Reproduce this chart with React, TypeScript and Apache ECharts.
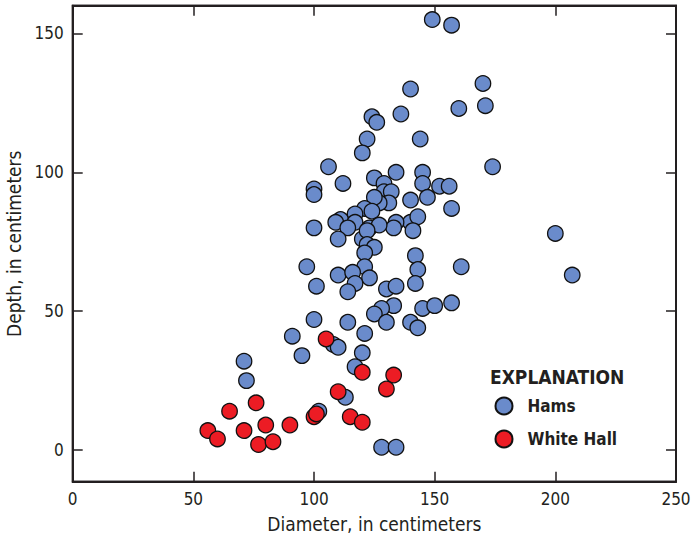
import React, { useEffect, useRef } from "react";
import * as echarts from "echarts";

const xTicks = [0, 50, 100, 150, 200, 250];
const yTicks = [0, 50, 100, 150];
const yMin = -11.4;
const yMax = 160;

const hamsDiameter = [
  149, 157, 170, 171, 160, 140, 136, 124, 126, 144, 122, 120, 174, 106, 112, 100, 100, 125, 134, 145,
  129, 145, 129, 132, 152, 156, 140, 147, 131, 157, 127, 125, 121, 124, 117, 111, 117, 109, 100, 140,
  143, 134, 141, 133, 123, 127, 114, 110, 120, 122, 122, 125, 121, 142, 161, 97, 143, 121, 110, 116,
  123, 117, 101, 114, 130, 134, 142, 133, 128, 125, 145, 150, 157, 100, 114, 130, 140, 143, 121, 91,
  95, 71, 72, 108, 110, 120, 117, 113, 102, 128, 134, 200, 207,
];
const hamsDepth = [
  155, 153, 132, 124, 123, 130, 121, 120, 118, 112, 112, 107, 102, 102, 96, 94, 92, 98, 100, 100,
  96, 96, 93, 93, 95, 95, 90, 91, 89, 87, 89, 91, 87, 86, 85, 83, 82, 82, 80, 82,
  84, 82, 79, 80, 80, 81, 80, 76, 76, 79, 74, 73, 71, 70, 66, 66, 65, 66, 63, 64,
  62, 60, 59, 57, 58, 59, 60, 52, 51, 49, 51, 52, 53, 47, 46, 46, 46, 44, 42, 41,
  34, 32, 25, 38, 37, 35, 30, 19, 14, 1, 1, 78, 63,
];

const whiteHallDiameter = [105, 120, 133, 130, 110, 76, 65, 100, 101, 115, 120, 90, 80, 71, 56, 60, 77, 83];
const whiteHallDepth = [40, 28, 27, 22, 21, 17, 14, 12, 13, 12, 10, 9, 9, 7, 7, 4, 2, 3];

const FONT = "'Liberation Sans Narrow', 'DejaVu Sans Condensed', 'Roboto', sans-serif";
const INK = "#231f20";

export default function App() {
  const ref = useRef<HTMLDivElement>(null);
  useEffect(() => {
    if (!ref.current) return;
    const chart = echarts.init(ref.current, null, { renderer: "svg" });
    const hams = hamsDiameter.map((d, i) => [d, hamsDepth[i]]);
    const wh = whiteHallDiameter.map((d, i) => [d, whiteHallDepth[i]]);
    const axisLine = () => ({ show: true, onZero: false, lineStyle: { color: INK, width: 1.8 } });
    const tick = () => ({ show: true, inside: true, length: 10, lineStyle: { color: INK, width: 1.5 } });
    const explanation = {
      id: "explanation",
      type: "text",
      left: 490,
      top: 367,
      style: { text: "EXPLANATION", font: `bold 19px ${FONT}`, fill: INK },
    };
    chart.setOption({
      animation: false,
      grid: {
        left: 72.7,
        right: 22,
        top: 5.7,
        bottom: 57.3,
        containLabel: false,
        outerBoundsMode: "none",
        show: true,
        borderColor: INK,
        borderWidth: 1.8,
      },
      graphic: [explanation],
      legend: {
        orient: "vertical",
        left: 489.5,
        top: 391.5,
        itemWidth: 17,
        itemHeight: 17,
        itemGap: 14,
        icon: "circle",
        textStyle: { fontFamily: FONT, fontWeight: "bold", fontSize: 17, color: INK, padding: [0, 0, 0, 10] },
        data: ["Hams", "White Hall"],
      },
      xAxis: [
        {
          type: "value",
          min: xTicks[0],
          max: xTicks[xTicks.length - 1],
          interval: 50,
          position: "bottom",
          name: "Diameter, in centimeters",
          nameLocation: "middle",
          nameGap: 33,
          nameTextStyle: { fontFamily: FONT, fontSize: 19, color: INK },
          axisLine: axisLine(),
          axisTick: tick(),
          axisLabel: { fontFamily: FONT, fontSize: 17, color: INK, margin: 9 },
          splitLine: { show: false },
        },
        {
          type: "value",
          min: xTicks[0],
          max: xTicks[xTicks.length - 1],
          interval: 50,
          position: "top",
          axisLine: axisLine(),
          axisTick: tick(),
          axisLabel: { show: false },
          splitLine: { show: false },
        },
      ],
      yAxis: [
        {
          type: "value",
          min: yMin,
          max: yMax,
          position: "left",
          name: "Depth, in centimeters",
          nameLocation: "middle",
          nameGap: 42,
          nameTextStyle: { fontFamily: FONT, fontSize: 19, color: INK },
          axisLine: axisLine(),
          axisTick: { ...tick(), customValues: yTicks },
          axisLabel: { fontFamily: FONT, fontSize: 17, color: INK, margin: 9, customValues: yTicks },
          splitLine: { show: false },
        },
        {
          type: "value",
          min: yMin,
          max: yMax,
          position: "right",
          axisLine: axisLine(),
          axisTick: { ...tick(), customValues: yTicks },
          axisLabel: { show: false },
          splitLine: { show: false },
        },
      ],
      series: [
        {
          name: "Hams",
          type: "scatter",
          data: hams,
          symbol: "circle",
          symbolSize: 15.5,
          itemStyle: { color: "#6a8bcb", borderColor: "#111111", borderWidth: 1.3, opacity: 1 },
        },
        {
          name: "White Hall",
          type: "scatter",
          data: wh,
          symbol: "circle",
          symbolSize: 15.5,
          itemStyle: { color: "#ec1c24", borderColor: "#111111", borderWidth: 1.3, opacity: 1 },
        },
      ],
    });
    const tl = chart.convertToPixel({ gridIndex: 0 }, [xTicks[0], yMax]) as number[];
    const br = chart.convertToPixel({ gridIndex: 0 }, [xTicks[xTicks.length - 1], yMin]) as number[];
    if (tl && br) {
      chart.setOption({
        graphic: [
          explanation,
          {
            id: "frame",
            type: "rect",
            silent: true,
            z: 100,
            shape: { x: tl[0], y: tl[1], width: br[0] - tl[0], height: br[1] - tl[1] },
            style: { fill: "none", stroke: INK, lineWidth: 1.8 },
          },
        ],
      });
    }
    return () => chart.dispose();
  }, []);
  return (
    <div style={{ position: "fixed", left: 0, top: 0, width: 698, height: 539, overflow: "hidden", background: "#fff" }}>
      <div ref={ref} style={{ width: 698, height: 539 }} />
    </div>
  );
}
